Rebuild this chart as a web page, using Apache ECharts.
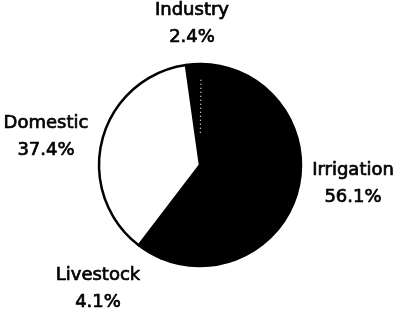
<!DOCTYPE html>
<html>
<head>
<meta charset="utf-8">
<script src="https://cdn.jsdelivr.net/npm/echarts@6/dist/echarts.min.js"></script>
<style>
html,body{margin:0;padding:0;background:#fff;}
#c{width:401px;height:315px;}
</style>
</head>
<body>
<div id="c"></div>
<script>
// Data (clockwise order starting just left of 12 o'clock)
const categories = ['Industry', 'Irrigation', 'Livestock', 'Domestic'];
const shares = [2.4, 56.1, 4.1, 37.4];

// Label anchor points (pixel centres of each two-line label)
const labelX = [192, 353, 98, 46];
const labelY = [24, 184, 289, 137];

const sliceColors = ['#000000', '#000000', '#000000', '#ffffff'];

// dotted boundary between Industry and Irrigation (cumulative share)
const boundary = shares[0];

const chart = echarts.init(document.getElementById('c'), null, {renderer: 'canvas'});
chart.setOption({
  animation: false,
  backgroundColor: '#ffffff',
  polar: {center: [200, 165], radius: 101},
  angleAxis: {type: 'value', min: 0, max: 100, startAngle: 98, clockwise: true, show: false},
  radiusAxis: {type: 'value', min: 0, max: 1, show: false},
  series: [{
    type: 'pie',
    center: [200, 165],
    radius: 101,
    startAngle: 98,
    clockwise: true,
    avoidLabelOverlap: false,
    data: categories.map((c, i) => ({
      name: c,
      value: shares[i],
      itemStyle: {color: sliceColors[i], borderColor: '#000', borderWidth: 2.5}
    })),
    label: {
      show: true,
      position: 'outside',
      formatter: p => p.name + '\n' + p.value.toFixed(1) + '%',
      fontFamily: 'DejaVu Sans, sans-serif',
      fontWeight: 'normal',
      fontSize: 18,
      lineHeight: 27,
      color: '#000',
      textBorderColor: '#000',
      textBorderWidth: 0.7,
      align: 'center'
    },
    labelLine: {show: false},
    labelLayout: p => ({
      x: labelX[p.dataIndex],
      y: labelY[p.dataIndex],
      align: 'center',
      verticalAlign: 'middle'
    }),
    emphasis: {disabled: true},
    z: 1
  }, {
    type: 'line',
    coordinateSystem: 'polar',
    data: [[0.32, boundary], [0.85, boundary]],
    symbol: 'none',
    lineStyle: {color: '#ffffff', width: 1.2, type: [1, 3]},
    silent: true,
    z: 5
  }]
});
</script>
</body>
</html>
